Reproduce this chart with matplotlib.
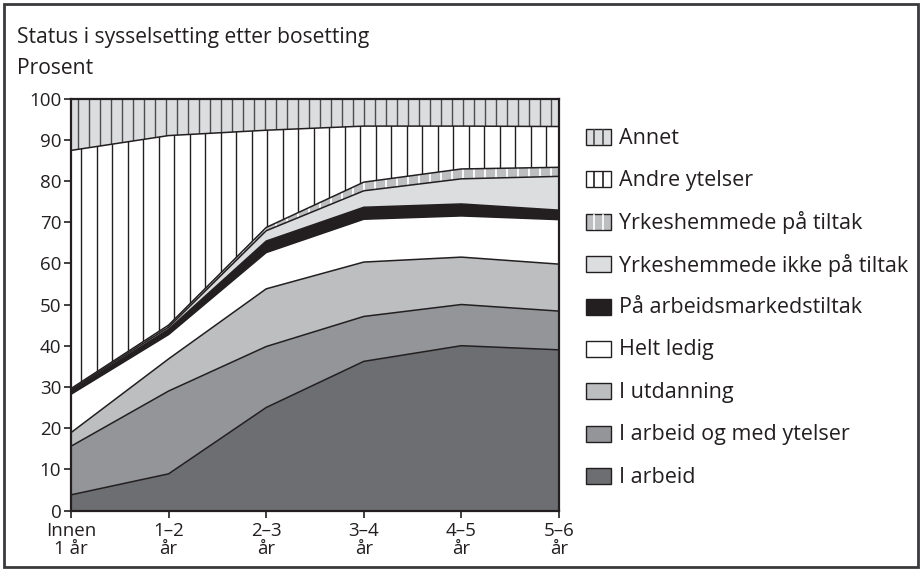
import matplotlib
matplotlib.use('Agg')
import matplotlib.pyplot as plt
import numpy as np
from matplotlib.patches import Rectangle

plt.rcParams['font.family'] = ['Open Sans', 'DejaVu Sans']

# ---- data ----
categories = ['Innen\n1 år', '1–2\når', '2–3\når', '3–4\når', '4–5\når', '5–6\når']
series_names = ['I arbeid', 'I arbeid og med ytelser', 'I utdanning', 'Helt ledig',
                'På arbeidsmarkedstiltak', 'Yrkeshemmede ikke på tiltak',
                'Yrkeshemmede på tiltak', 'Andre ytelser', 'Annet']
i_arbeid = [3.8, 8.9, 25.0, 36.2, 40.0, 39.0]
i_arbeid_ytelser = [11.8, 20.1, 14.8, 10.9, 10.0, 9.4]
i_utdanning = [3.3, 7.8, 14.0, 13.2, 11.5, 11.4]
helt_ledig = [9.3, 5.9, 8.8, 10.4, 10.0, 10.8]
arbeidsmarkedstiltak = [0.8, 1.3, 2.8, 2.9, 2.9, 2.3]
yrk_ikke_tiltak = [0.3, 0.5, 2.5, 4.0, 6.1, 8.2]
yrk_paa_tiltak = [0.3, 0.5, 0.8, 2.1, 2.4, 2.2]
andre_ytelser = [57.8, 46.0, 23.6, 13.6, 10.4, 9.9]
annet = [12.6, 9.0, 7.7, 6.7, 6.7, 6.8]
series_values = [i_arbeid, i_arbeid_ytelser, i_utdanning, helt_ledig, arbeidsmarkedstiltak,
                 yrk_ikke_tiltak, yrk_paa_tiltak, andre_ytelser, annet]
yticks = list(range(0, 101, 10))

# ---- styles ----
# (facecolor, hatch line color or None, hatch spacing px, hatch linewidth)
styles = [
    ('#6d6e71', None, 0, 0),
    ('#939598', None, 0, 0),
    ('#bcbec0', None, 0, 0),
    ('#ffffff', None, 0, 0),
    ('#231f20', None, 0, 0),
    ('#dcdddf', None, 0, 0),
    ('#bcbec0', '#ffffff', 11.0, 1.3),
    ('#ffffff', '#231f20', 15.5, 1.0),
    ('#dcdddf', '#4d4d4f', 11.0, 1.0),
]
edge = '#231f20'

W, H = 921, 570
fig = plt.figure(figsize=(W / 100, H / 100), dpi=100)
ax_l, ax_r, ax_t, ax_b = 71, 559, 98.5, 510.5
ax = fig.add_axes([ax_l / W, 1 - ax_b / H, (ax_r - ax_l) / W, (ax_b - ax_t) / H])

x = np.arange(len(categories))
vals = np.array(series_values, dtype=float)
cum = np.vstack([np.zeros(len(categories)), np.cumsum(vals, axis=0)])
cum[-1] = 100.0

px_per_unit = (ax_r - ax_l) / (len(categories) - 1)
for i, (fc, hc, sp, hlw) in enumerate(styles):
    lower, upper = cum[i], cum[i + 1]
    poly = ax.fill_between(x, lower, upper, facecolor=fc, edgecolor='none', lw=0, zorder=1)
    if hc is not None:
        step = sp / px_per_unit
        xs = np.arange(step * 0.65, x[-1], step)
        lc = ax.vlines(xs, 0, 100, colors=hc, lw=hlw, zorder=2)
        lc.set_clip_path(poly.get_paths()[0], ax.transData)
    if i < len(styles) - 1:
        ax.plot(x, upper, color=edge, lw=1.1, zorder=3)

ax.set_xlim(0, len(categories) - 1)
ax.set_ylim(0, 100)
ax.set_yticks(yticks)
ax.set_xticks(x)
ax.set_xticklabels(categories, linespacing=0.98)
for s in ax.spines.values():
    s.set_linewidth(1.6)
    s.set_color(edge)
    s.set_zorder(5)
ax.tick_params(direction='out', length=5, width=1.2, color=edge, labelsize=13.5,
               labelcolor='#231f20')
ax.tick_params(axis='x', pad=3.5)
ax.tick_params(axis='y', pad=2)

# ---- overlay for title, legend and border (pixel coordinates) ----
ov = fig.add_axes([0, 0, 1, 1], zorder=10)
ov.set_xlim(0, W)
ov.set_ylim(H, 0)
ov.axis('off')
ov.patch.set_alpha(0)

ov.text(17, 43, 'Status i sysselsetting etter bosetting', fontsize=15.2, va='baseline',
        ha='left', color='#231f20')
ov.text(17, 74, 'Prosent', fontsize=15.2, va='baseline', ha='left', color='#231f20')

leg_x, leg_w, leg_h = 586, 25, 16
row0, row_step = 137, 42.4
order = list(range(len(series_names)))[::-1]
for r, idx in enumerate(order):
    yc = row0 + r * row_step
    fc, hc, sp, hlw = styles[idx]
    ov.add_patch(Rectangle((leg_x, yc - leg_h / 2), leg_w, leg_h, facecolor=fc,
                           edgecolor=edge, lw=1.0))
    if hc is not None:
        for f in (1 / 3, 2 / 3):
            ov.plot([leg_x + f * leg_w] * 2, [yc - leg_h / 2 + 0.8, yc + leg_h / 2 - 0.8],
                    color=hc, lw=1.2)
    ov.text(leg_x + leg_w + 8, yc + 1, series_names[idx], fontsize=15.5, va='center',
            ha='left', color='#231f20')

ov.add_patch(Rectangle((3.5, 4), W - 7, H - 7, facecolor='none', edgecolor='#3a3a3c', lw=2.0))

fig.savefig('out.png', dpi=100)
